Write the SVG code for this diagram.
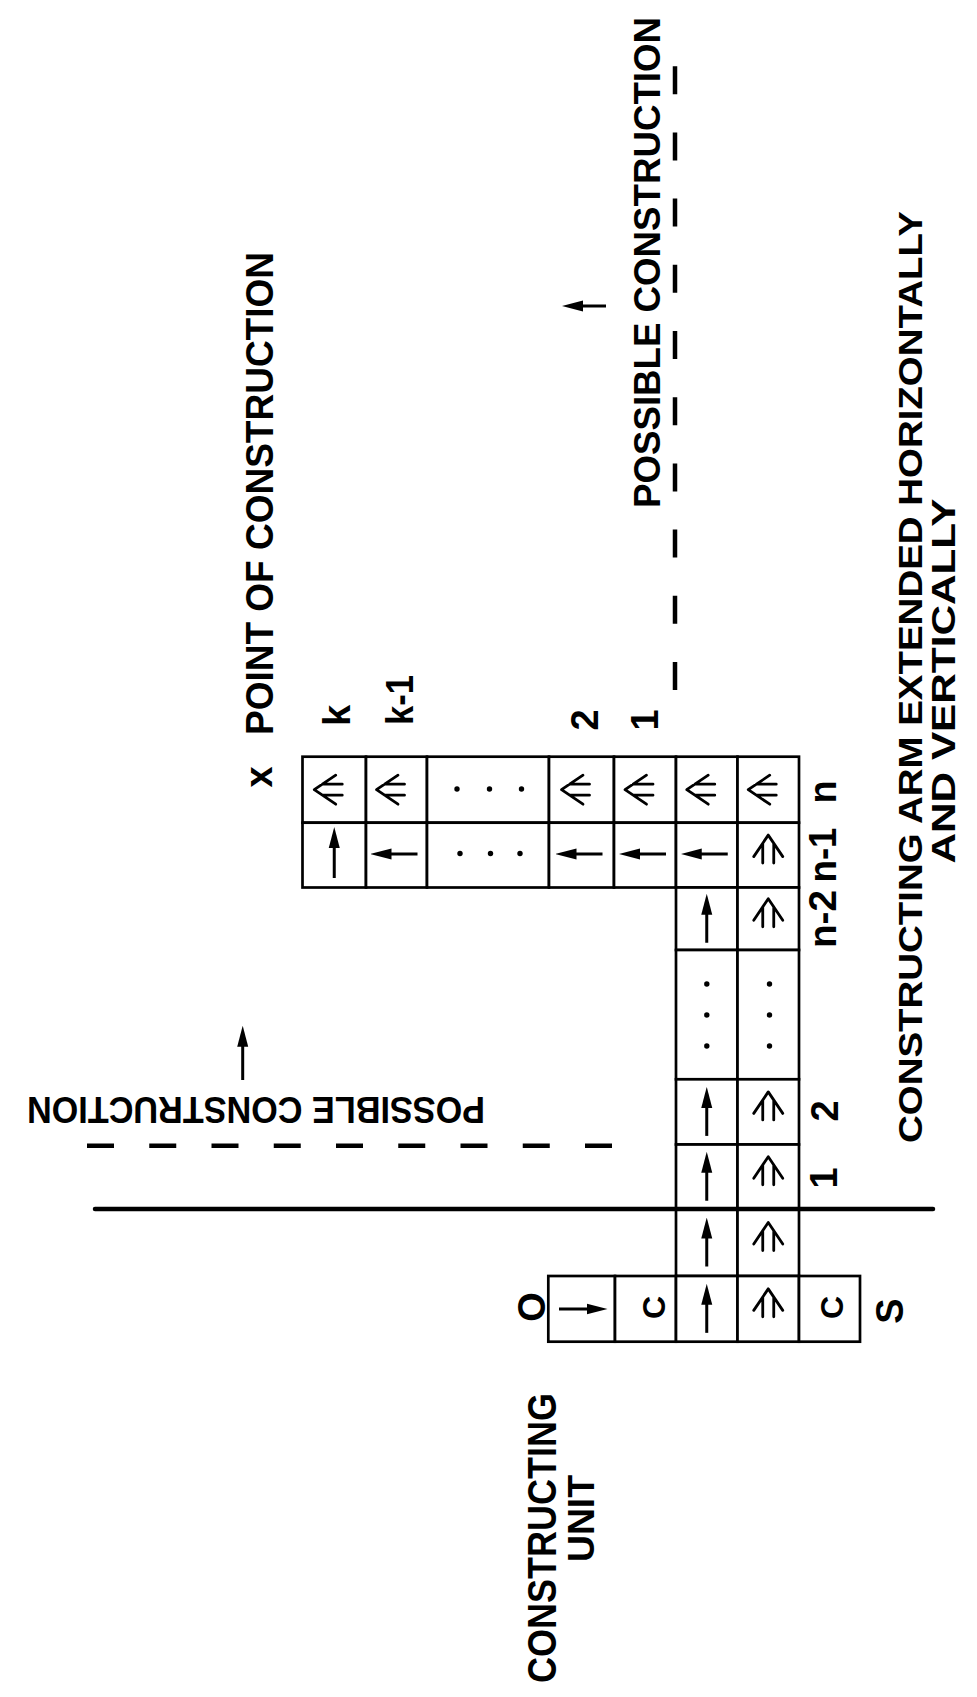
<svg xmlns="http://www.w3.org/2000/svg" width="977" height="1697" viewBox="0 0 977 1697">
<defs>
<style>
.cell{fill:#fff;stroke:#000;stroke-width:2.7}
.g{fill:none;stroke:#000;stroke-width:2.8;stroke-linecap:round;stroke-linejoin:round}
.ar{fill:none;stroke:#000;stroke-width:3;marker-end:url(#ah)}
.dot{fill:#000}
.t{font-family:"Liberation Sans",Arial,sans-serif;font-weight:bold;fill:#000;text-anchor:middle}
.thick{stroke:#000;stroke-width:4.5;stroke-linecap:round}
.dash{stroke:#000;stroke-width:4.5;fill:none}
</style>
<marker id="ah" markerUnits="userSpaceOnUse" viewBox="0 0 21 12" refX="8" refY="6" markerWidth="21" markerHeight="12" orient="auto">
<path d="M0,0.5 L21,6 L0,11.5 Z" fill="#000"/>
</marker>
<path id="dup" d="M-14.5,1.5 L0,-20 L14.5,1.5 M-5.5,-11.8 V8 M5.5,-11.8 V8"/>
<path id="dleft" d="M1.5,-14.5 L-20,0 L1.5,14.5 M-11.8,-5.5 H8 M-11.8,5.5 H8"/>
</defs>
<rect width="977" height="1697" fill="#fff"/>

<!-- horizontal arm, row A -->
<g id="cell-A0"><rect class="cell" x="302.5" y="756.7" width="63.5" height="66"/><use href="#dleft" class="g" transform="translate(334.25,789.7)"/></g>
<g id="cell-A1"><rect class="cell" x="366" y="756.7" width="61" height="66"/><use href="#dleft" class="g" transform="translate(396.5,789.7)"/></g>
<g id="cell-A2"><rect class="cell" x="427" y="756.7" width="122" height="66"/><circle class="dot" cx="457" cy="789" r="2.7"/><circle class="dot" cx="489.5" cy="789" r="2.7"/><circle class="dot" cx="521.5" cy="789" r="2.7"/></g>
<g id="cell-A3"><rect class="cell" x="549" y="756.7" width="65" height="66"/><use href="#dleft" class="g" transform="translate(581.5,789.7)"/></g>
<g id="cell-A4"><rect class="cell" x="614" y="756.7" width="62" height="66"/><use href="#dleft" class="g" transform="translate(645,789.7)"/></g>
<g id="cell-A5"><rect class="cell" x="676" y="756.7" width="61.5" height="66"/><use href="#dleft" class="g" transform="translate(706.75,789.7)"/></g>
<g id="cell-A6"><rect class="cell" x="737.5" y="756.7" width="61.5" height="66"/><use href="#dleft" class="g" transform="translate(768.25,789.7)"/></g>

<!-- horizontal arm, row B -->
<g id="cell-B0"><rect class="cell" x="302.5" y="822.7" width="63.5" height="64.8"/><line class="ar" x1="334.25" y1="878" x2="334.25" y2="840"/></g>
<g id="cell-B1"><rect class="cell" x="366" y="822.7" width="61" height="64.8"/><line class="ar" x1="417.5" y1="854" x2="383.5" y2="854"/></g>
<g id="cell-B2"><rect class="cell" x="427" y="822.7" width="122" height="64.8"/><circle class="dot" cx="460" cy="853.5" r="2.7"/><circle class="dot" cx="490.5" cy="853.5" r="2.7"/><circle class="dot" cx="520" cy="853.5" r="2.7"/></g>
<g id="cell-B3"><rect class="cell" x="549" y="822.7" width="65" height="64.8"/><line class="ar" x1="602.5" y1="854" x2="568.5" y2="854"/></g>
<g id="cell-B4"><rect class="cell" x="614" y="822.7" width="62" height="64.8"/><line class="ar" x1="666" y1="854" x2="632" y2="854"/></g>
<g id="cell-B5"><rect class="cell" x="676" y="822.7" width="61.5" height="64.8"/><line class="ar" x1="727.75" y1="854" x2="693.75" y2="854"/></g>
<g id="cell-B6"><rect class="cell" x="737.5" y="822.7" width="61.5" height="64.8"/><use href="#dup" class="g" transform="translate(768.25,855.1)"/></g>

<!-- vertical arm -->
<g id="cell-V1L"><rect class="cell" x="676" y="887.5" width="61.5" height="62.5"/><line class="ar" x1="706.75" y1="942.75" x2="706.75" y2="906.75"/></g>
<g id="cell-V1R"><rect class="cell" x="737.5" y="887.5" width="61.5" height="62.5"/><use href="#dup" class="g" transform="translate(768.25,918.75)"/></g>
<g id="cell-V2L"><rect class="cell" x="676" y="950" width="61.5" height="129.3"/><circle class="dot" cx="706.8" cy="984" r="2.7"/><circle class="dot" cx="706.8" cy="1015" r="2.7"/><circle class="dot" cx="706.8" cy="1046" r="2.7"/></g>
<g id="cell-V2R"><rect class="cell" x="737.5" y="950" width="61.5" height="129.3"/><circle class="dot" cx="769.5" cy="984" r="2.7"/><circle class="dot" cx="769.5" cy="1015" r="2.7"/><circle class="dot" cx="769.5" cy="1046" r="2.7"/></g>
<g id="cell-V3L"><rect class="cell" x="676" y="1079.3" width="61.5" height="65.2"/><line class="ar" x1="706.75" y1="1135.9" x2="706.75" y2="1099.9"/></g>
<g id="cell-V3R"><rect class="cell" x="737.5" y="1079.3" width="61.5" height="65.2"/><use href="#dup" class="g" transform="translate(768.25,1111.9)"/></g>
<g id="cell-V4L"><rect class="cell" x="676" y="1144.5" width="61.5" height="64.5"/><line class="ar" x1="706.75" y1="1200.75" x2="706.75" y2="1164.75"/></g>
<g id="cell-V4R"><rect class="cell" x="737.5" y="1144.5" width="61.5" height="64.5"/><use href="#dup" class="g" transform="translate(768.25,1176.75)"/></g>
<g id="cell-V5L"><rect class="cell" x="676" y="1209" width="61.5" height="67"/><line class="ar" x1="706.75" y1="1266.5" x2="706.75" y2="1230.5"/></g>
<g id="cell-V5R"><rect class="cell" x="737.5" y="1209" width="61.5" height="67"/><use href="#dup" class="g" transform="translate(768.25,1242.5)"/></g>

<!-- constructing unit row -->
<g id="cell-U0"><rect class="cell" x="548.3" y="1276" width="66.7" height="65.7"/><line class="ar" x1="559" y1="1309" x2="594.5" y2="1309"/></g>
<g id="cell-U1"><rect class="cell" x="615" y="1276" width="61" height="65.7"/><text class="t" font-size="32" transform="translate(665,1307.5) rotate(-90)">C</text></g>
<g id="cell-U2"><rect class="cell" x="676" y="1276" width="61.5" height="65.7"/><line class="ar" x1="706.75" y1="1332.85" x2="706.75" y2="1296.85"/></g>
<g id="cell-U3"><rect class="cell" x="737.5" y="1276" width="61.5" height="65.7"/><use href="#dup" class="g" transform="translate(768.25,1308.85)"/></g>
<g id="cell-U4"><rect class="cell" x="799" y="1276" width="61" height="65.7"/><text class="t" font-size="32" transform="translate(843,1307.5) rotate(-90)">C</text></g>

<!-- connectors / lines -->
<g id="connectors">
<line class="thick" x1="95" y1="1209" x2="933" y2="1209"/>
<line class="dash" x1="87" y1="1145.7" x2="612" y2="1145.7" stroke-dasharray="27 35.25"/>
<line class="dash" x1="675" y1="690" x2="675" y2="66" stroke-dasharray="28 38.2"/>
<line class="ar" x1="242.7" y1="1080" x2="242.7" y2="1038.7"/>
<line class="ar" x1="606" y1="306" x2="575" y2="306"/>
</g>

<!-- labels -->
<g id="labels">
<text class="t" font-size="38" transform="translate(273,493.5) rotate(-90)" textLength="483" lengthAdjust="spacingAndGlyphs">POINT OF CONSTRUCTION</text>
<text class="t" font-size="38" transform="translate(272,777) rotate(-90)">x</text>
<text class="t" font-size="38" transform="translate(350,715.5) rotate(-90)">k</text>
<text class="t" font-size="38" transform="translate(413,700) rotate(-90)" textLength="50" lengthAdjust="spacingAndGlyphs">k-1</text>
<text class="t" font-size="38" transform="translate(598,720) rotate(-90)">2</text>
<text class="t" font-size="38" transform="translate(658,720) rotate(-90)">1</text>
<text class="t" font-size="38" transform="translate(836,792) rotate(-90)">n</text>
<text class="t" font-size="38" transform="translate(836,855) rotate(-90)" textLength="55" lengthAdjust="spacingAndGlyphs">n-1</text>
<text class="t" font-size="38" transform="translate(836,919) rotate(-90)" textLength="58" lengthAdjust="spacingAndGlyphs">n-2</text>
<text class="t" font-size="38" transform="translate(838,1111) rotate(-90)">2</text>
<text class="t" font-size="38" transform="translate(837,1178) rotate(-90)">1</text>
<text class="t" font-size="38" transform="translate(545,1307) rotate(-90)">O</text>
<text class="t" font-size="38" transform="translate(903,1311) rotate(-90)">S</text>
<text class="t" font-size="36" transform="translate(660,262.5) rotate(-90)" textLength="491" lengthAdjust="spacingAndGlyphs">POSSIBLE CONSTRUCTION</text>
<text class="t" font-size="36" transform="translate(256,1096.7) rotate(180)" textLength="458" lengthAdjust="spacingAndGlyphs">POSSIBLE CONSTRUCTION</text>
<text class="t" font-size="34" transform="translate(922,677) rotate(-90)" textLength="932" lengthAdjust="spacingAndGlyphs">CONSTRUCTING ARM EXTENDED HORIZONTALLY</text>
<text class="t" font-size="34" transform="translate(955,681) rotate(-90)" textLength="365" lengthAdjust="spacingAndGlyphs">AND VERTICALLY</text>
<text class="t" font-size="40" transform="translate(556,1538) rotate(-90)" textLength="290" lengthAdjust="spacingAndGlyphs">CONSTRUCTING</text>
<text class="t" font-size="36" transform="translate(594,1518.5) rotate(-90)" textLength="87" lengthAdjust="spacingAndGlyphs">UNIT</text>
</g>
</svg>
